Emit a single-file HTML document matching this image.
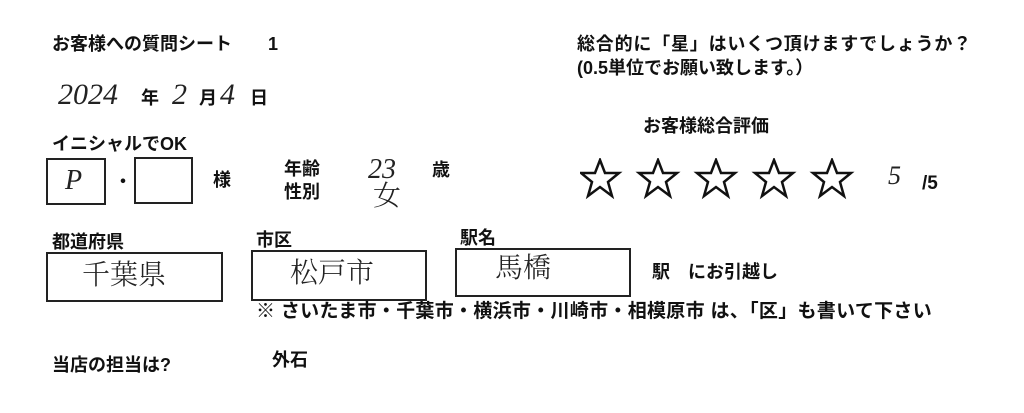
<!DOCTYPE html>
<html><head><meta charset="utf-8"><style>
body{margin:0;width:1024px;height:413px;background:#fff;position:relative;overflow:hidden;font-family:"Liberation Sans","Noto Sans CJK JP",sans-serif;color:#111}
.t{position:absolute;white-space:nowrap;font-size:18px;line-height:1;font-weight:bold}
.h{position:absolute;white-space:nowrap;font-family:"Liberation Serif","Noto Serif CJK SC",serif;font-style:italic;font-weight:300;line-height:1;color:#222}
.b{position:absolute;border:2px solid #222;box-sizing:border-box}
</style></head><body>
<div class="t" style="left:52px;top:35px">お客様への質問シート　　1</div>
<div class="t" style="left:577px;top:35px;letter-spacing:0.8px">総合的に「星」はいくつ頂けますでしょうか？</div>
<div class="t" style="left:577px;top:59px">(0.5単位でお願い致します。）</div>
<div class="h" style="left:58px;top:80px;font-size:30px">2024</div>
<div class="t" style="left:141px;top:89px">年</div>
<div class="h" style="left:172px;top:80px;font-size:30px">2</div>
<div class="t" style="left:199px;top:89px">月</div>
<div class="h" style="left:220px;top:80px;font-size:30px">4</div>
<div class="t" style="left:250px;top:89px">日</div>
<div class="t" style="left:643px;top:117px">お客様総合評価</div>
<div class="t" style="left:52px;top:135px">イニシャルでOK</div>
<div class="b" style="left:46px;top:158px;width:60px;height:47px"></div>
<div class="h" style="left:65px;top:167px;font-size:28px">P</div>
<div class="t" style="left:114px;top:173px">・</div>
<div class="b" style="left:134px;top:157px;width:59px;height:47px"></div>
<div class="t" style="left:213px;top:171px">様</div>
<div class="t" style="left:284px;top:160px">年齢</div>
<div class="t" style="left:284px;top:183px">性別</div>
<div class="h" style="left:368px;top:156px;font-size:28px">23</div>
<div class="h" style="left:373px;top:183px;font-size:28px;font-style:normal">女</div>
<div class="t" style="left:432px;top:161px">歳</div>
<svg style="position:absolute;left:580px;top:158px" width="290" height="42">
<defs><polygon id="s" points="20,2 25,15 39,15 28,24 32,38 20,29 8,38 12,24 1,15 15,15" fill="none" stroke="#111" stroke-width="2.5" stroke-linejoin="miter"/></defs>
<use href="#s" x="0"/><use href="#s" x="58"/><use href="#s" x="116"/><use href="#s" x="174"/><use href="#s" x="232"/>
</svg>
<div class="h" style="left:888px;top:163px;font-size:26px">5</div>
<div class="t" style="left:922px;top:174px;font-size:19px">/5</div>
<div class="t" style="left:52px;top:233px">都道府県</div>
<div class="b" style="left:46px;top:252px;width:177px;height:50px"></div>
<div class="h" style="left:82px;top:262px;font-size:28px;font-style:normal">千葉県</div>
<div class="t" style="left:256px;top:231px">市区</div>
<div class="b" style="left:251px;top:250px;width:176px;height:51px"></div>
<div class="h" style="left:290px;top:260px;font-size:28px;font-style:normal">松戸市</div>
<div class="t" style="left:460px;top:229px">駅名</div>
<div class="b" style="left:455px;top:248px;width:176px;height:49px"></div>
<div class="h" style="left:495px;top:255px;font-size:28px;font-style:normal">馬橋</div>
<div class="t" style="left:652px;top:263px">駅　にお引越し</div>
<div class="t" style="left:256px;top:302px;font-size:19px;letter-spacing:0.3px">※ さいたま市・千葉市・横浜市・川崎市・相模原市 は、「区」も書いて下さい</div>
<div class="t" style="left:52px;top:356px">当店の担当は?</div>
<div class="t" style="left:272px;top:351px">外石</div>
</body></html>
